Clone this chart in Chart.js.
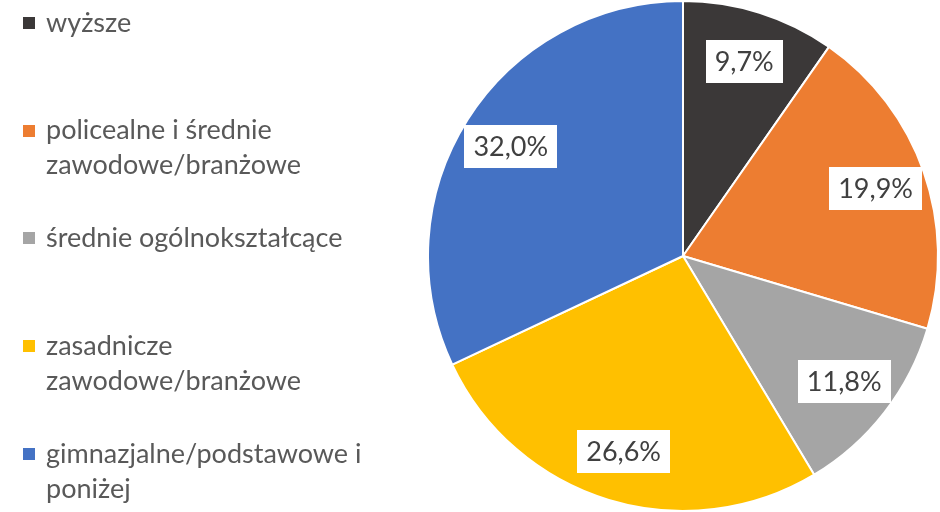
<!DOCTYPE html>
<html>
<head>
<meta charset="utf-8">
<script src="https://cdn.jsdelivr.net/npm/chart.js@4.4.1/dist/chart.umd.min.js"></script>
<style>
  html, body { margin: 0; padding: 0; background: #fff; }
</style>
</head>
<body>
<canvas id="eduChart" width="940" height="512"></canvas>
<script>
// Data
const categories = [
  'wyższe',
  'policealne i średnie zawodowe/branżowe',
  'średnie ogólnokształcące',
  'zasadnicze zawodowe/branżowe',
  'gimnazjalne/podstawowe i poniżej'
];
const shares = [9.7, 19.9, 11.8, 26.6, 32.0];
const sliceColors = ['#3B3838', '#ED7D31', '#A5A5A5', '#FFC000', '#4472C4'];

const FONT = '27px Lato, "Open Sans", sans-serif';

// split legend text into lines that fit maxWidth
function wrapText(ctx, text, maxWidth) {
  const words = text.split(' ');
  const lines = [];
  let line = '';
  words.forEach(word => {
    const test = line ? line + ' ' + word : word;
    if (line && ctx.measureText(test).width > maxWidth) {
      lines.push(line);
      line = word;
    } else {
      line = test;
    }
  });
  if (line) lines.push(line);
  return lines;
}

// White boxed percentage labels inside the slices
const sliceLabels = {
  id: 'sliceLabels',
  afterDatasetsDraw(chart) {
    const { ctx } = chart;
    const meta = chart.getDatasetMeta(0);
    ctx.save();
    ctx.font = FONT;
    ctx.textAlign = 'center';
    ctx.textBaseline = 'middle';
    meta.data.forEach((arc, i) => {
      const { x, y, startAngle, endAngle, outerRadius } =
        arc.getProps(['x', 'y', 'startAngle', 'endAngle', 'outerRadius'], true);
      const mid = (startAngle + endAngle) / 2;
      const r = outerRadius * 0.8;
      const cx = x + Math.cos(mid) * r;
      const cy = y + Math.sin(mid) * r;
      const text = shares[i].toFixed(1).replace('.', ',') + '%';
      const w = ctx.measureText(text).width + 18;
      const h = 43;
      ctx.fillStyle = '#ffffff';
      ctx.fillRect(Math.round(cx - w / 2), Math.round(cy - h / 2), Math.round(w), h);
      ctx.fillStyle = '#404040';
      ctx.fillText(text, cx, cy + 1);
    });
    ctx.restore();
  }
};

// Legend on the left, one fixed slot per entry
const sideLegend = {
  id: 'sideLegend',
  afterDraw(chart) {
    const { ctx } = chart;
    ctx.save();
    ctx.font = FONT;
    ctx.textAlign = 'left';
    ctx.textBaseline = 'middle';
    const slot = 107.7;
    const lineGap = 35;
    chart.data.labels.forEach((label, i) => {
      const y0 = 23 + i * slot;
      ctx.fillStyle = sliceColors[i];
      ctx.fillRect(23, Math.round(y0 - 6), 12, 12);
      ctx.fillStyle = '#595959';
      wrapText(ctx, label, 330).forEach((line, k) => {
        ctx.fillText(line, 46, y0 + k * lineGap);
      });
    });
    ctx.restore();
  }
};

new Chart(document.getElementById('eduChart').getContext('2d'), {
  type: 'pie',
  data: {
    labels: categories,
    datasets: [{
      data: shares,
      backgroundColor: sliceColors,
      borderColor: '#ffffff',
      borderWidth: 2
    }]
  },
  options: {
    responsive: false,
    animation: false,
    devicePixelRatio: 1,
    layout: {
      padding: { left: 426, right: 0, top: 0, bottom: 0 }
    },
    plugins: {
      legend: { display: false },
      tooltip: { enabled: false }
    }
  },
  plugins: [sliceLabels, sideLegend]
});
</script>
</body>
</html>
